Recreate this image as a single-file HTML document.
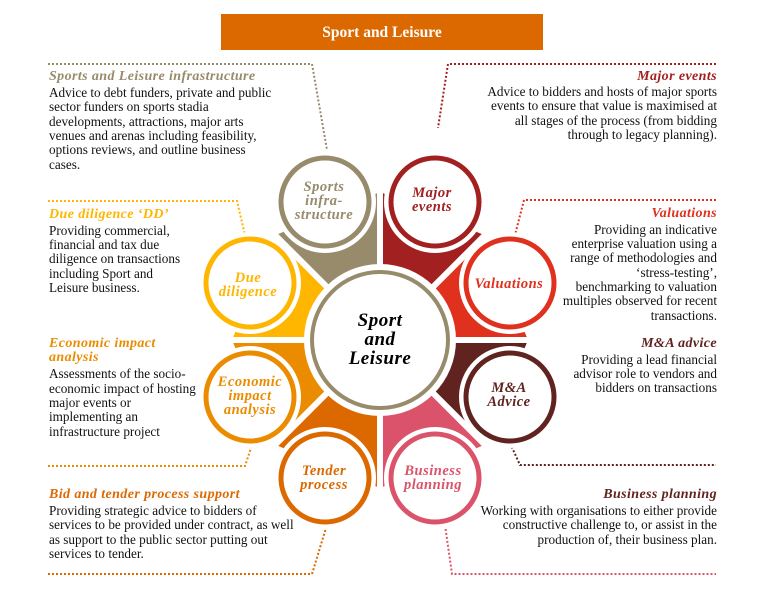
<!DOCTYPE html>
<html><head><meta charset="utf-8"><style>
html,body{margin:0;padding:0;background:#fff;}
svg{display:block;}
text{font-family:"Liberation Serif",serif;}
.b{font-size:13.2px;fill:#111;letter-spacing:0px;}
.h{font-size:14px;font-weight:bold;font-style:italic;letter-spacing:0.4px;}
.c{font-size:14.5px;font-weight:bold;font-style:italic;text-anchor:middle;letter-spacing:0.5px;}
.d{fill:none;stroke-width:2;stroke-dasharray:2,2;}
</style></head><body>
<svg width="768" height="600" viewBox="0 0 768 600" xmlns="http://www.w3.org/2000/svg">
<rect x="221" y="14" width="322" height="36" fill="#DC6900"/>
<text x="382" y="37" text-anchor="middle" fill="#fff" font-size="15.5" font-weight="bold">Sport and Leisure</text>

<polyline class="d" stroke="#978B6B" points="48,64 312,64 327,150"/>
<polyline class="d" stroke="#FFB600" points="48,201 237,201 245,235"/>
<polyline class="d" stroke="#EB8C00" points="48,466 245,466 253,442"/>
<polyline class="d" stroke="#DC6900" points="48,574 312,574 326,528"/>
<polyline class="d" stroke="#A32020" points="716,64 448,64 438,128"/>
<polyline class="d" stroke="#E0301E" points="716,200 524,200 515,235"/>
<polyline class="d" stroke="#602320" points="510,443 520,465 716,465"/>
<polyline class="d" stroke="#DB536A" points="445,525 452,574 716,574"/>

<g>
<polygon points="380,340 275.3,235.3 380,192" fill="#978B6B"/>
<polygon points="380,340 380,192 484.7,235.3" fill="#A32020"/>
<polygon points="380,340 484.7,235.3 528,340" fill="#E0301E"/>
<polygon points="380,340 528,340 484.7,444.7" fill="#602320"/>
<polygon points="380,340 484.7,444.7 380,488" fill="#DB536A"/>
<polygon points="380,340 380,488 275.3,444.7" fill="#DC6900"/>
<polygon points="380,340 275.3,444.7 232,340" fill="#EB8C00"/>
<polygon points="380,340 232,340 275.3,235.3" fill="#FFB600"/>
<g stroke="#fff" stroke-width="6">
<line x1="380" y1="180" x2="380" y2="500"/>
<line x1="220" y1="340" x2="540" y2="340"/>
<line x1="267" y1="227" x2="493" y2="453"/>
<line x1="267" y1="453" x2="493" y2="227"/>
</g>
</g>

<circle cx="380" cy="340" r="76" fill="#fff"/>
<circle cx="380" cy="340" r="68" fill="#fff" stroke="#978B6B" stroke-width="4"/>
<text x="380" y="326" text-anchor="middle" font-size="19" font-weight="bold" font-style="italic" letter-spacing="0.5">Sport</text>
<text x="380" y="345" text-anchor="middle" font-size="19" font-weight="bold" font-style="italic" letter-spacing="0.5">and</text>
<text x="380" y="364" text-anchor="middle" font-size="19" font-weight="bold" font-style="italic" letter-spacing="0.5">Leisure</text>

<g fill="#fff" stroke-width="5">
<circle cx="325" cy="202" r="51" stroke="none"/><circle cx="325" cy="202" r="44" stroke="#978B6B"/>
<circle cx="435" cy="202" r="51" stroke="none"/><circle cx="435" cy="202" r="44" stroke="#A32020"/>
<circle cx="510" cy="283" r="51" stroke="none"/><circle cx="510" cy="283" r="44" stroke="#E0301E"/>
<circle cx="510" cy="397" r="51" stroke="none"/><circle cx="510" cy="397" r="44" stroke="#602320"/>
<circle cx="435" cy="478" r="51" stroke="none"/><circle cx="435" cy="478" r="44" stroke="#DB536A"/>
<circle cx="325" cy="478" r="51" stroke="none"/><circle cx="325" cy="478" r="44" stroke="#DC6900"/>
<circle cx="250" cy="397" r="51" stroke="none"/><circle cx="250" cy="397" r="44" stroke="#EB8C00"/>
<circle cx="250" cy="283" r="51" stroke="none"/><circle cx="250" cy="283" r="44" stroke="#FFB600"/>
</g>
<text class="c" fill="#978B6B"><tspan x="324" y="191">Sports</tspan><tspan x="324" y="205">infra-</tspan><tspan x="324" y="219">structure</tspan></text>
<text class="c" fill="#A32020"><tspan x="432" y="197">Major</tspan><tspan x="432" y="211">events</tspan></text>
<text class="c" fill="#E0301E"><tspan x="509" y="288">Valuations</tspan></text>
<text class="c" fill="#602320"><tspan x="509" y="392">M&amp;A</tspan><tspan x="509" y="406">Advice</tspan></text>
<text class="c" fill="#DB536A"><tspan x="433" y="475">Business</tspan><tspan x="433" y="489">planning</tspan></text>
<text class="c" fill="#DC6900"><tspan x="324" y="475">Tender</tspan><tspan x="324" y="489">process</tspan></text>
<text class="c" fill="#EB8C00"><tspan x="250" y="386">Economic</tspan><tspan x="250" y="400">impact</tspan><tspan x="250" y="414">analysis</tspan></text>
<text class="c" fill="#FFB600"><tspan x="248" y="282">Due</tspan><tspan x="248" y="296">diligence</tspan></text>

<text class="h" x="49" y="80" fill="#978B6B">Sports and Leisure infrastructure</text>
<text class="b"><tspan x="49" y="97">Advice to debt funders, private and public</tspan><tspan x="49" y="111">sector funders on sports stadia</tspan><tspan x="49" y="126">developments, attractions, major arts</tspan><tspan x="49" y="140">venues and arenas including feasibility,</tspan><tspan x="49" y="154">options reviews, and outline business</tspan><tspan x="49" y="169">cases.</tspan></text>

<text class="h" x="49" y="218" fill="#FFB600">Due diligence ‘DD’</text>
<text class="b"><tspan x="49" y="235">Providing commercial,</tspan><tspan x="49" y="249">financial and tax due</tspan><tspan x="49" y="263">diligence on transactions</tspan><tspan x="49" y="278">including Sport and</tspan><tspan x="49" y="292">Leisure business.</tspan></text>

<text class="h" fill="#EB8C00"><tspan x="49" y="347">Economic impact</tspan><tspan x="49" y="361">analysis</tspan></text>
<text class="b"><tspan x="49" y="378">Assessments of the socio-</tspan><tspan x="49" y="393">economic impact of hosting</tspan><tspan x="49" y="407">major events or</tspan><tspan x="49" y="421">implementing an</tspan><tspan x="49" y="436">infrastructure project</tspan></text>

<text class="h" x="49" y="498" fill="#DC6900">Bid and tender process support</text>
<text class="b"><tspan x="49" y="515">Providing strategic advice to bidders of</tspan><tspan x="49" y="529">services to be provided under contract, as well</tspan><tspan x="49" y="544">as support to the public sector putting out</tspan><tspan x="49" y="558">services to tender.</tspan></text>

<g text-anchor="end">
<text class="h" x="717" y="80" fill="#A32020">Major events</text>
<text class="b"><tspan x="717" y="96">Advice to bidders and hosts of major sports</tspan><tspan x="717" y="110">events to ensure that value is maximised at</tspan><tspan x="717" y="125">all stages of the process (from bidding</tspan><tspan x="717" y="139">through to legacy planning).</tspan></text>

<text class="h" x="717" y="217" fill="#E0301E">Valuations</text>
<text class="b"><tspan x="717" y="234">Providing an indicative</tspan><tspan x="717" y="248">enterprise valuation using a</tspan><tspan x="717" y="262">range of methodologies and</tspan><tspan x="717" y="277">‘stress-testing’,</tspan><tspan x="717" y="291">benchmarking to valuation</tspan><tspan x="717" y="305">multiples observed for recent</tspan><tspan x="717" y="320">transactions.</tspan></text>

<text class="h" x="717" y="347" fill="#602320">M&amp;A advice</text>
<text class="b"><tspan x="717" y="364">Providing a lead financial</tspan><tspan x="717" y="378">advisor role to vendors and</tspan><tspan x="717" y="392">bidders on transactions</tspan></text>

<text class="h" x="717" y="498" fill="#602320">Business planning</text>
<text class="b"><tspan x="717" y="515">Working with organisations to either provide</tspan><tspan x="717" y="529">constructive challenge to, or assist in the</tspan><tspan x="717" y="544">production of, their business plan.</tspan></text>
</g>
</svg>
</body></html>
